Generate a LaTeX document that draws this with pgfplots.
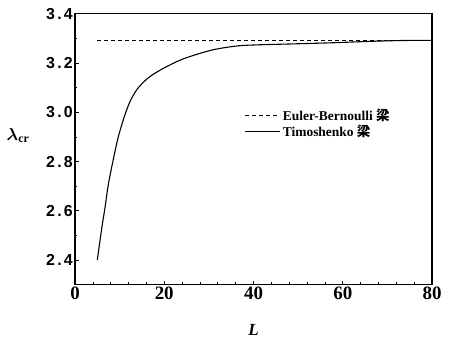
\documentclass[border=0pt]{standalone}
\usepackage{fontspec}
\setmainfont{Liberation Serif}
\setsansfont{Liberation Sans}
\newfontfamily\cjk{Noto Sans CJK SC}
\newfontfamily\ysans[LetterSpace=14]{Liberation Sans}
\usepackage{bm}
\usepackage{pgfplots}
\pgfplotsset{compat=1.18}
\begin{document}
\begin{tikzpicture}
\begin{axis}[
  scale only axis,
  width=357bp, height=271bp,
  xmin=0, xmax=80, ymin=2.3, ymax=3.4,
  xtick={0,20,40,60,80},
  ytick={2.4,2.6,2.8,3.0,3.2,3.4},
  minor x tick num=4,
  minor y tick num=1,
  tick align=inside,
  xtick pos=left, ytick pos=left,
  major tick length=4bp, minor tick length=2.5bp,
  axis line style={line width=1.1pt},
  every tick/.style={black, line width=0.7pt},
  /pgf/number format/assume math mode=true,
  xticklabel style={font=\fontsize{19}{21}\selectfont\bfseries, inner sep=2bp},
  yticklabel style={font=\fontsize{16}{18}\ysans\bfseries, inner sep=2bp},
  yticklabel={\pgfmathprintnumber[fixed,fixed zerofill,precision=1]{\tick}},
  xlabel={\fontsize{17}{19}\selectfont\bfseries\itshape L},
  xlabel style={at={(rel axis cs:0.5,0)}, anchor=north, yshift=-36bp},
  ylabel={\fontsize{17}{19}\selectfont$\bm{\lambda}_{\mathbf{cr}}$},
  ylabel style={rotate=-90, at={(rel axis cs:0,0.55)}, anchor=center, xshift=-57bp},
  legend style={draw=none, fill=none, at={(rel axis cs:0.475,0.655)}, anchor=north west,
    font=\fontsize{13.5}{15}\selectfont\bfseries, row sep=-1bp, inner sep=0pt},
  legend cell align=left,
  legend image code/.code={\draw[#1] (0bp,0bp) -- (35bp,0bp);},
]
\addplot[black, line width=0.8pt, dash pattern=on 4bp off 3bp] coordinates {(5,3.29) (80,3.29)};
\addlegendentry{Euler-Bernoulli {\cjk 梁}}
\addplot[black, line width=1.1pt, smooth, tension=0.5] coordinates {
(5,2.40) (6,2.53) (6.7,2.61) (7.5,2.71) (8.6,2.81) (9.7,2.90) (11.2,2.99)
(12.5,3.05) (14.2,3.10) (16.8,3.145) (20.5,3.185) (24.6,3.219) (30.6,3.252)
(35.8,3.268) (40,3.273) (50,3.278) (57.7,3.282) (65,3.287) (72.7,3.291) (80,3.292)};
\addlegendentry{Timoshenko {\cjk 梁}}
\end{axis}
\pgfresetboundingbox
\path ([shift={(-75bp,-55.4bp)}]current axis.south west) rectangle ([shift={(18bp,13.7bp)}]current axis.north east);
\end{tikzpicture}
\end{document}
